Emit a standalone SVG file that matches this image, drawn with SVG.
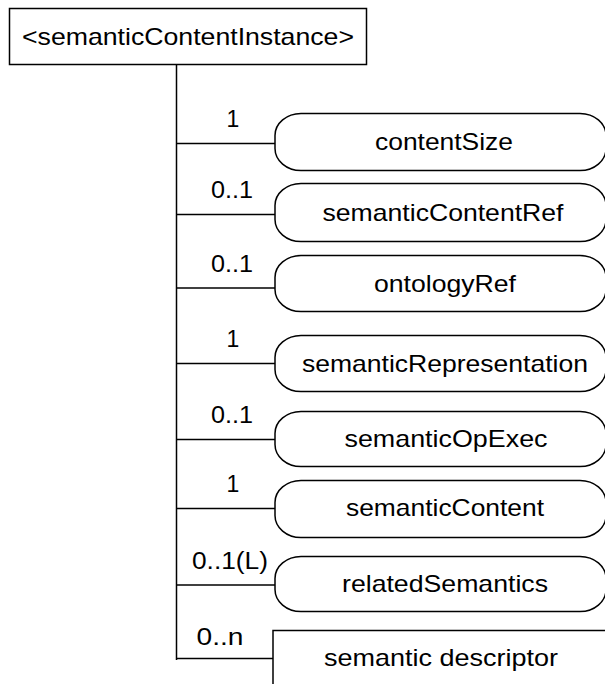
<svg xmlns="http://www.w3.org/2000/svg" width="605" height="684" viewBox="0 0 605 684">
<style>
.box{fill:#fff;stroke:#000;stroke-width:1.5}
.ln{stroke:#000;stroke-width:1.5;fill:none}
.t{font-family:"Liberation Sans",Arial,sans-serif;font-size:24px;fill:#000;text-anchor:middle}
.lb{font-family:"Liberation Sans",Arial,sans-serif;font-size:23px;fill:#000;text-anchor:middle}
</style>
<rect width="605" height="684" fill="#fff"/>
<g id="connectors">
<line class="ln" x1="176.5" y1="65" x2="176.5" y2="660"/>
<line class="ln" x1="176.5" y1="143.5" x2="275" y2="143.5"/>
<line class="ln" x1="176.5" y1="214.5" x2="275" y2="214.5"/>
<line class="ln" x1="176.5" y1="288" x2="275" y2="288"/>
<line class="ln" x1="176.5" y1="363.5" x2="275" y2="363.5"/>
<line class="ln" x1="176.5" y1="439.5" x2="275" y2="439.5"/>
<line class="ln" x1="176.5" y1="508.5" x2="275" y2="508.5"/>
<line class="ln" x1="176.5" y1="585" x2="275" y2="585"/>
<line class="ln" x1="176.5" y1="658.5" x2="273" y2="658.5"/>
<text class="lb" x="233" y="127">1</text>
<text class="lb" x="232" y="198" textLength="42" lengthAdjust="spacingAndGlyphs">0..1</text>
<text class="lb" x="232" y="272" textLength="42" lengthAdjust="spacingAndGlyphs">0..1</text>
<text class="lb" x="233" y="347">1</text>
<text class="lb" x="232" y="423" textLength="42" lengthAdjust="spacingAndGlyphs">0..1</text>
<text class="lb" x="233" y="492">1</text>
<text class="lb" x="230" y="569" textLength="76" lengthAdjust="spacingAndGlyphs">0..1(L)</text>
<text class="lb" x="220" y="645" textLength="47" lengthAdjust="spacingAndGlyphs">0..n</text>
</g>
<g id="root">
<rect class="box" x="9.5" y="8.5" width="357" height="56"/>
<text class="t" x="188" y="45" textLength="332" lengthAdjust="spacingAndGlyphs">&lt;semanticContentInstance&gt;</text>
</g>
<g id="contentSize">
<rect class="box" x="275" y="113.5" width="331" height="57" rx="26" ry="22"/>
<text class="t" x="444" y="150" textLength="138" lengthAdjust="spacingAndGlyphs">contentSize</text>
</g>
<g id="semanticContentRef">
<rect class="box" x="275" y="183.5" width="331" height="58" rx="26" ry="22"/>
<text class="t" x="443" y="221" textLength="241" lengthAdjust="spacingAndGlyphs">semanticContentRef</text>
</g>
<g id="ontologyRef">
<rect class="box" x="275" y="255.5" width="331" height="56" rx="26" ry="22"/>
<text class="t" x="445" y="292" textLength="142" lengthAdjust="spacingAndGlyphs">ontologyRef</text>
</g>
<g id="semanticRepresentation">
<rect class="box" x="275" y="335.5" width="331" height="56" rx="26" ry="22"/>
<text class="t" x="445" y="372" textLength="286" lengthAdjust="spacingAndGlyphs">semanticRepresentation</text>
</g>
<g id="semanticOpExec">
<rect class="box" x="275" y="411.5" width="331" height="55" rx="26" ry="22"/>
<text class="t" x="446" y="447" textLength="203" lengthAdjust="spacingAndGlyphs">semanticOpExec</text>
</g>
<g id="semanticContent">
<rect class="box" x="275" y="480.5" width="331" height="57" rx="26" ry="22"/>
<text class="t" x="445" y="516" textLength="198" lengthAdjust="spacingAndGlyphs">semanticContent</text>
</g>
<g id="relatedSemantics">
<rect class="box" x="275" y="556.5" width="331" height="55" rx="26" ry="22"/>
<text class="t" x="445" y="592" textLength="206" lengthAdjust="spacingAndGlyphs">relatedSemantics</text>
</g>
<g id="semanticDescriptor">
<rect class="box" x="273" y="630.5" width="340" height="70"/>
<text class="t" x="441" y="666" textLength="234" lengthAdjust="spacingAndGlyphs">semantic descriptor</text>
</g>
</svg>
